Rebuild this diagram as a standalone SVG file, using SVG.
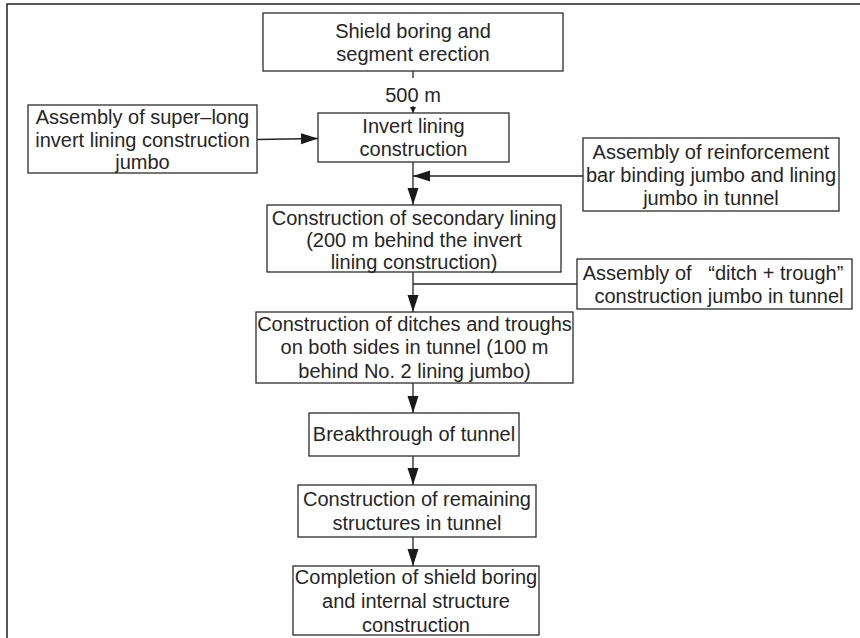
<svg xmlns="http://www.w3.org/2000/svg" width="860" height="638" viewBox="0 0 860 638">
<defs>
<style>
.box{fill:#fff;stroke:#2b2b2b;stroke-width:1.3}
.t{font-family:"Liberation Sans",Arial,sans-serif;font-size:20px;fill:#262626;text-anchor:middle}
.c{fill:none;stroke:#222;stroke-width:1.3}
</style>
<marker id="ah" markerUnits="userSpaceOnUse" markerWidth="18" markerHeight="12" refX="17" refY="5.5" orient="auto">
<path d="M0,0 L17,5.5 L0,11 z" fill="#1a1a1a"/>
</marker>
<marker id="ahs" markerUnits="userSpaceOnUse" markerWidth="8" markerHeight="8" refX="6" refY="3" orient="auto">
<path d="M0,0 L6,3 L0,6 z" fill="#1a1a1a"/>
</marker>
</defs>
<rect width="860" height="638" fill="#fff"/>
<path d="M7,638 V4 H860" fill="none" stroke="#222" stroke-width="1.5"/>

<g id="connectors">
<line class="c" x1="413" y1="71" x2="413" y2="78"/>
<line class="c" x1="413" y1="106" x2="413" y2="113" marker-end="url(#ahs)"/>
<line class="c" x1="257" y1="139.5" x2="318" y2="138.5" marker-end="url(#ah)"/>
<line class="c" x1="413" y1="162" x2="413" y2="205" marker-end="url(#ah)"/>
<line class="c" x1="583" y1="176" x2="413" y2="176" marker-end="url(#ah)"/>
<line class="c" x1="413" y1="272" x2="413" y2="312" marker-end="url(#ah)"/>
<line class="c" x1="577" y1="284" x2="413" y2="284"/>
<line class="c" x1="413" y1="383" x2="413" y2="413" marker-end="url(#ah)"/>
<line class="c" x1="413" y1="456" x2="413" y2="485" marker-end="url(#ah)"/>
<line class="c" x1="413" y1="537" x2="413" y2="566" marker-end="url(#ah)"/>
<text class="t" x="413" y="102">500 m</text>
</g>

<g id="n1">
<rect class="box" x="263" y="13" width="300" height="58"/>
<text class="t" x="413" y="38">Shield boring and</text>
<text class="t" x="413" y="61">segment erection</text>
</g>

<g id="n2">
<rect class="box" x="318" y="113" width="191" height="49"/>
<text class="t" x="413.5" y="133">Invert lining</text>
<text class="t" x="413.5" y="156">construction</text>
</g>

<g id="n3">
<rect class="box" x="28" y="105" width="229" height="68"/>
<text class="t" x="142.5" y="124">Assembly of super–long</text>
<text class="t" x="142.5" y="147">invert lining construction</text>
<text class="t" x="142.5" y="169">jumbo</text>
</g>

<g id="n4">
<rect class="box" x="583" y="138" width="256" height="73"/>
<text class="t" x="711" y="159">Assembly of reinforcement</text>
<text class="t" x="711" y="182">bar binding jumbo and lining</text>
<text class="t" x="711" y="205">jumbo in tunnel</text>
</g>

<g id="n5">
<rect class="box" x="267" y="205" width="294" height="67"/>
<text class="t" x="414" y="225">Construction of secondary lining</text>
<text class="t" x="414" y="247">(200 m behind the invert</text>
<text class="t" x="414" y="269">lining construction)</text>
</g>

<g id="n6">
<rect class="box" x="577" y="259" width="275" height="50"/>
<text class="t" x="713" y="280" xml:space="preserve">Assembly of   “ditch + trough”</text>
<text class="t" x="719" y="303">construction jumbo in tunnel</text>
</g>

<g id="n7">
<rect class="box" x="256" y="312" width="317" height="71"/>
<text class="t" x="414.5" y="331">Construction of ditches and troughs</text>
<text class="t" x="414.5" y="354">on both sides in tunnel (100 m</text>
<text class="t" x="414.5" y="378">behind No. 2 lining jumbo)</text>
</g>

<g id="n8">
<rect class="box" x="309" y="413" width="210" height="43"/>
<text class="t" x="414" y="441">Breakthrough of tunnel</text>
</g>

<g id="n9">
<rect class="box" x="298" y="485" width="238" height="52"/>
<text class="t" x="417" y="506">Construction of remaining</text>
<text class="t" x="417" y="530">structures in tunnel</text>
</g>

<g id="n10">
<rect class="box" x="293" y="566" width="246" height="69"/>
<text class="t" x="416" y="584">Completion of shield boring</text>
<text class="t" x="416" y="608">and internal structure</text>
<text class="t" x="416" y="632">construction</text>
</g>
</svg>
